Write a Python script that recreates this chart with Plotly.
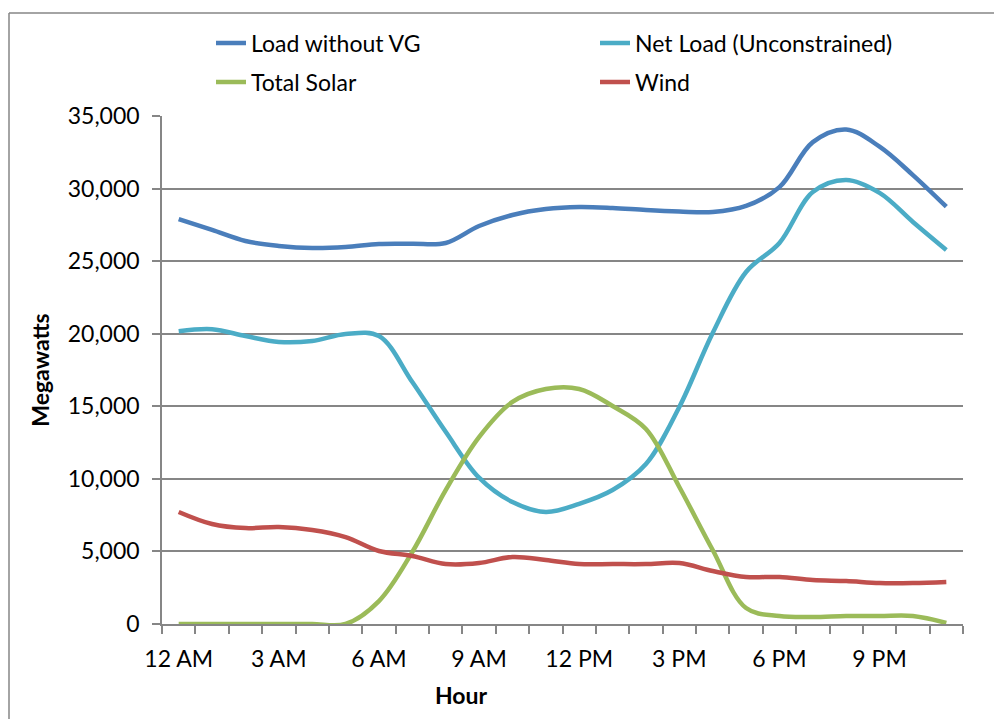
import plotly.graph_objects as go

hours = list(range(24))
tick_hours = [0, 3, 6, 9, 12, 15, 18, 21]
tick_labels = ["12 AM", "3 AM", "6 AM", "9 AM", "12 PM", "3 PM", "6 PM", "9 PM"]

load_without_vg = [27900, 27150, 26390, 26050, 25900, 25970, 26180, 26200,
                   26250, 27420, 28180, 28590, 28730, 28660, 28520, 28420,
                   28380, 28800, 30100, 33200, 34070, 32890, 30930, 28750]
net_load = [20170, 20310, 19840, 19430, 19500, 19980, 19840, 16670,
            13240, 10080, 8400, 7720, 8280, 9230, 11020, 14950,
            20050, 24250, 26250, 29760, 30590, 29700, 27700, 25770]
total_solar = [0, 0, 0, 0, 0, 0, 1580, 4960,
               9230, 12880, 15300, 16190, 16190, 15020, 13440, 9440,
               5100, 1100, 550, 480, 550, 550, 550, 70]
wind = [7720, 6890, 6610, 6680, 6480, 5990, 5030, 4690,
        4130, 4200, 4620, 4410, 4130, 4130, 4130, 4200,
        3650, 3240, 3240, 3030, 2960, 2820, 2820, 2890]

series = [
    ("Load without VG", load_without_vg, "#4A7EBB", "legend"),
    ("Net Load (Unconstrained)", net_load, "#4BACC6", "legend"),
    ("Total Solar", total_solar, "#9BBB59", "legend2"),
    ("Wind", wind, "#C0504D", "legend2"),
]

FONT = "Lato"
GREY = "#868686"

fig = go.Figure()
for name, vals, color, leg in series:
    fig.add_trace(go.Scatter(
        x=hours, y=vals, name=name, mode="lines", legend=leg,
        line=dict(color=color, width=4.5, shape="spline", smoothing=1.0),
    ))

# page body has an 8px margin; plot area in page pixels: x 162..963, y 116..624
OFF = 8
PL, PR, PT, PB = 162, 963, 116, 624
W, H = 1002 - OFF, 719 - OFF
pw, ph = PR - PL, PB - PT

def px_x(p):
    return (p - PL) / pw

def px_y(p):
    return (PB - p) / ph

legend_common = dict(
    orientation="h", xanchor="left", yanchor="middle",
    entrywidth=339, entrywidthmode="pixels",
    font=dict(family=FONT, size=23, color="black"),
    bgcolor="rgba(0,0,0,0)",
)

border = dict(color=GREY, width=1.5)

fig.update_layout(
    width=W, height=H,
    margin=dict(l=PL - OFF, r=W + OFF - PR, t=PT - OFF, b=H + OFF - PB, pad=0),
    paper_bgcolor="white", plot_bgcolor="white",
    font=dict(family=FONT, size=23, color="black"),
    showlegend=True,
    legend=dict(x=px_x(211), y=px_y(43), **legend_common),
    legend2=dict(x=px_x(211), y=px_y(82), **legend_common),
    xaxis=dict(
        range=[-0.5, 23.5], tickmode="array", tickvals=tick_hours, ticktext=tick_labels,
        ticks="", showgrid=False, zeroline=False,
        showline=True, linecolor=GREY, linewidth=1.5,
        ticklabelstandoff=14,
        minor=dict(tick0=-0.5, dtick=1, ticks="outside", ticklen=8,
                   tickcolor=GREY, tickwidth=1.5, showgrid=False),
        tickfont=dict(family=FONT, size=23, color="black"),
    ),
    yaxis=dict(
        range=[0, 35000], tickmode="linear", tick0=0, dtick=5000,
        tickformat=",d", ticks="outside", ticklen=8, tickcolor=GREY, tickwidth=1.5,
        showgrid=True, gridcolor=GREY, gridwidth=1.5, zeroline=False,
        showline=True, linecolor=GREY, linewidth=1.5,
        ticklabelstandoff=8,
        tickfont=dict(family=FONT, size=23, color="black"),
        title=dict(text="<b>Megawatts</b>", standoff=12,
                   font=dict(family=FONT, size=23, color="black")),
    ),
    annotations=[dict(
        text="<b>Hour</b>", xref="paper", yref="paper",
        x=px_x(461), y=px_y(695), xanchor="center", yanchor="middle",
        showarrow=False, font=dict(family=FONT, size=23, color="black"),
    )],
    shapes=[
        dict(type="line", xref="paper", yref="paper", layer="below",
             x0=px_x(9), x1=px_x(1010), y0=px_y(13), y1=px_y(13), line=border),
        dict(type="line", xref="paper", yref="paper", layer="below",
             x0=px_x(9), x1=px_x(9), y0=px_y(13), y1=px_y(730), line=border),
    ],
)

fig.write_html("out.html")
